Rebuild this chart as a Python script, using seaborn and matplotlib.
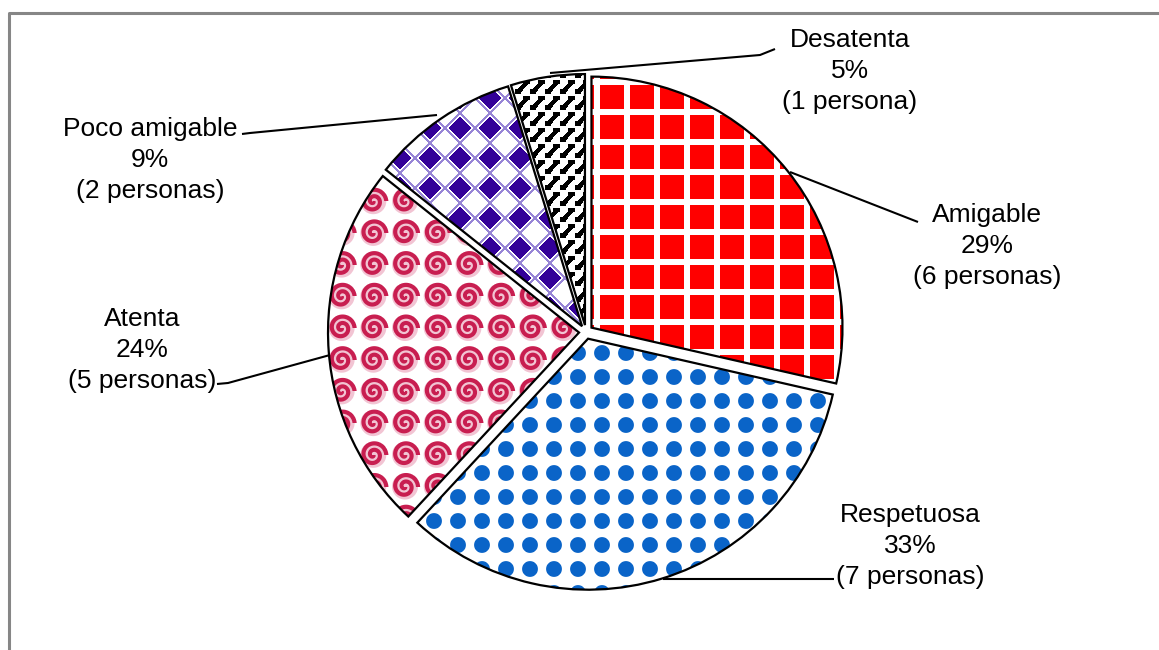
import numpy as np
import matplotlib
matplotlib.use("Agg")
import matplotlib.pyplot as plt
import seaborn as sns

# --- data -------------------------------------------------------------
categorias = ["Amigable", "Respetuosa", "Atenta", "Poco amigable", "Desatenta"]
personas = [6, 7, 5, 2, 1]
porcentajes = ["29%", "33%", "24%", "9%", "5%"]

# --- style ------------------------------------------------------------
sns.set_theme(style="white")
plt.rcParams["font.family"] = ["Liberation Sans", "DejaVu Sans"]

W, H = 1159, 650
fig = plt.figure(figsize=(W / 100, H / 100), dpi=100)
fig.patch.set_facecolor("white")
ax = fig.add_axes([0, 0, 1, 1])

CENTER = (586, H - 332)
RADIUS = 251

wedges, _ = ax.pie(
    personas,
    startangle=90,
    counterclock=False,
    radius=RADIUS,
    center=CENTER,
    explode=[7] * len(personas),
    wedgeprops=dict(facecolor="none", edgecolor="black", linewidth=1.6, zorder=3),
)
ax.set_xlim(0, W)
ax.set_ylim(0, H)
ax.set_aspect("equal")
ax.axis("off")

# --- fill textures (pixel grid, row 0 at the top) ---------------------
yy, xx = np.mgrid[0:H, 0:W].astype(float) + 0.5


def rgb(hexcol):
    h = hexcol.lstrip("#")
    return np.array([int(h[i:i + 2], 16) / 255 for i in (0, 2, 4)])


def blend(mask, fg, bg):
    m = np.clip(mask, 0, 1)[..., None]
    return m * rgb(fg) + (1 - m) * rgb(bg)


def tex_grid():
    sx = ((xx - 600) % 30) < 24
    sy = ((yy - 85) % 30) < 24
    return blend((sx & sy).astype(float), "#FF0000", "#FFFFFF")


def tex_dots():
    dx = (xx - 602 + 12) % 24 - 12
    dy = (yy - 353 + 12) % 24 - 12
    d = np.hypot(dx, dy)
    return blend(8.4 - d, "#0A64C8", "#FFFFFF")


def tex_spiral():
    p = 31.7
    dx = (xx - 405 + p / 2) % p - p / 2
    dy = (yy - 328 + p / 2) % p - p / 2
    r = np.hypot(dx, dy)
    th = np.mod(np.arctan2(dy, dx), 2 * np.pi)
    b = 6.5 / (2 * np.pi)
    dist = np.full(r.shape, 99.0)
    for k in range(3):
        phi = th + 2 * np.pi * k
        ok = phi <= 2 * np.pi * 2.0
        rk = b * phi
        dist = np.where(ok, np.minimum(dist, np.abs(r - rk)), dist)
    arm = np.clip(2.6 - dist, 0, 1)
    inner = np.clip(13.5 - r, 0, 1)
    base = blend(inner, "#F2C4D3", "#FFFFFF")
    m = arm[..., None]
    return m * rgb("#C81E50") + (1 - m) * base


def tex_diamonds():
    s = 30 / np.sqrt(2)
    dx = xx - 430
    dy = yy - 158
    u = (dx + dy) / np.sqrt(2) / s
    v = (dx - dy) / np.sqrt(2) / s
    a = np.round(u)
    c = np.round(v)
    fu = np.abs(u - a)
    fv = np.abs(v - c)
    dark = (((a + c) % 2) == 0) & (np.maximum(fu, fv) < 0.37)
    line = np.maximum(fu, fv) > 0.45
    img = blend(line.astype(float) * 0.9, "#8C78D2", "#FFFFFF")
    m = dark[..., None].astype(float)
    return m * rgb("#330099") + (1 - m) * img


def tex_zigzag():
    lx = (xx - 560) % 15
    ly = (yy - 80) % 16
    stroke = (np.abs(lx + 0.9 * ly - 14) < 3.0) & (ly < 13)
    hook = (ly >= 9) & (ly < 14) & (lx < 6)
    tip = (ly < 4) & (lx > 8)
    return blend((stroke | hook | tip).astype(float), "#000000", "#FFFFFF")


def wedge_alpha(w):
    """Coverage of a pie wedge on the pixel grid (data y points up)."""
    cx, cy = w.center
    dx = xx - cx
    dy = (H - yy) - cy
    r = np.hypot(dx, dy)
    ang = np.degrees(np.arctan2(dy, dx))
    span = w.theta2 - w.theta1
    inside_ang = np.mod(ang - w.theta1, 360) <= span
    return (np.clip(w.r - r + 0.5, 0, 1) * inside_ang).astype(float)


texturas = [tex_grid(), tex_dots(), tex_spiral(), tex_diamonds(), tex_zigzag()]
for w, img in zip(wedges, texturas):
    rgba = np.dstack([img, wedge_alpha(w)])
    ax.imshow(rgba, extent=(0, W, 0, H), origin="upper",
              interpolation="nearest", zorder=2)

ax.set_xlim(0, W)
ax.set_ylim(0, H)

# --- labels and leader lines ------------------------------------------
etiquetas_pos = [(987, 215), (910, 515), (142, 319), (150, 129), (850, 40)]
guias = [
    [(790, 172), (918, 222)],
    [(663, 579), (834, 579)],
    [(330, 355), (228, 383), (217, 384)],
    [(437, 115), (250, 133), (242, 134)],
    [(550, 73), (760, 55), (775, 49)],
]
dy_line = 31

for cat, n, pct, (lx, ly), guia in zip(categorias, personas, porcentajes,
                                       etiquetas_pos, guias):
    cuenta = f"({n} persona)" if n == 1 else f"({n} personas)"
    for i, txt in enumerate([cat, pct, cuenta]):
        ax.text(lx, H - (ly + i * dy_line), txt, ha="center", va="center",
                fontsize=19, color="black", zorder=5)
    gx = [p[0] for p in guia]
    gy = [H - p[1] for p in guia]
    ax.plot(gx, gy, color="black", lw=1.5, zorder=4, clip_on=False,
            solid_capstyle="butt")

# chart area border
ax.plot([9, 9, W + 5], [-5, H - 13, H - 13], color="#868686", lw=2.2,
        clip_on=False, zorder=1)

fig.savefig("out.png", dpi=100, facecolor="white")
